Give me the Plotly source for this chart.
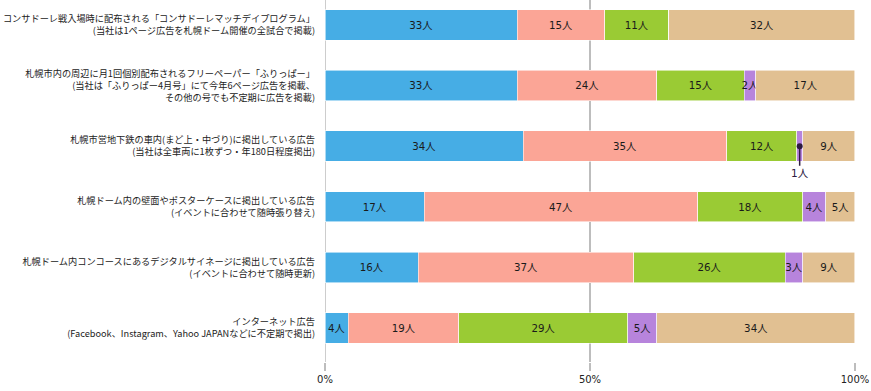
import plotly.graph_objects as go

categories = [
    "コンサドーレ戦入場時に配布される「コンサドーレマッチデイプログラム」<br>(当社は1ページ広告を札幌ドーム開催の全試合で掲載)",
    "札幌市内の周辺に月1回個別配布されるフリーペーパー「ふりっぱー」<br>(当社は「ふりっぱー4月号」にて今年6ページ広告を掲載、<br>その他の号でも不定期に広告を掲載)",
    "札幌市営地下鉄の車内(まど上・中づり)に掲出している広告<br>(当社は全車両に1枚ずつ・年180日程度掲出)",
    "札幌ドーム内の壁面やポスターケースに掲出している広告<br>(イベントに合わせて随時張り替え)",
    "札幌ドーム内コンコースにあるデジタルサイネージに掲出している広告<br>(イベントに合わせて随時更新)",
    "インターネット広告<br>(Facebook、Instagram、Yahoo JAPANなどに不定期で掲出)",
]

series_a = [33, 33, 34, 17, 16, 4]
series_b = [15, 24, 35, 47, 37, 19]
series_c = [11, 15, 12, 18, 26, 29]
series_d = [0, 2, 1, 4, 3, 5]
series_e = [32, 17, 9, 5, 9, 34]

series = [series_a, series_b, series_c, series_d, series_e]
colors = ["#46ADE5", "#FBA596", "#9ACB34", "#B784DC", "#E1C092"]

# labels: hide zero values; the single small value in row 3 is labelled with a callout
callout_row = 2
callout_series = 3

fig = go.Figure()
for si, (vals, col) in enumerate(zip(series, colors)):
    texts = []
    for ri, v in enumerate(vals):
        if v == 0 or (si == callout_series and ri == callout_row):
            texts.append("")
        else:
            texts.append(f"{v}人")
    fig.add_trace(go.Bar(
        y=categories, x=vals, orientation="h",
        marker=dict(color=col, line=dict(color="rgba(255,255,255,0.7)", width=0.8)),
        text=texts, textposition="inside", insidetextanchor="middle", textangle=0,
        textfont=dict(family="DejaVu Sans, Noto Sans CJK JP", size=10.5, color="#1a1a1a"),
        width=0.5, hoverinfo="skip", cliponaxis=False,
    ))

# callout position from the data
totals = [sum(s[i] for s in series) for i in range(len(categories))]
cum_before = sum(series[k][callout_row] for k in range(callout_series))
xpos = (cum_before + series[callout_series][callout_row] / 2) / totals[callout_row] * 100

fig.add_annotation(
    x=xpos, y=categories[callout_row], xref="x", yref="y",
    text=f"{series[callout_series][callout_row]}人",
    showarrow=True, arrowhead=6, arrowsize=1, arrowwidth=1.5, arrowcolor="#2d1a40",
    ax=0, ay=27, font=dict(family="DejaVu Sans, Noto Sans CJK JP", size=10.5, color="#2d1a40"),
)

fig.update_layout(
    barmode="stack", barnorm="percent",
    width=871, height=391,
    margin=dict(l=325, r=16, t=0, b=29),
    plot_bgcolor="white", paper_bgcolor="white",
    showlegend=False,
    uniformtext=dict(minsize=10, mode="show"),
    xaxis=dict(
        range=[-0.001, 100.001], tickvals=[0, 50, 100], ticktext=["0%", "50%", "100%"],
        showgrid=True, gridcolor="#BDBDBD", gridwidth=1.5,
        zeroline=False, showline=False,
        ticks="outside", ticklen=8, tickcolor="#BDBDBD", tickwidth=1.5,
        tickfont=dict(family="DejaVu Sans", size=10, color="#222"),
    ),
    yaxis=dict(
        type="category", range=[5.56, -0.41],
        showgrid=False, zeroline=False, showline=False, ticks="",
        ticklabelstandoff=9,
        tickfont=dict(family="Noto Sans CJK JP", size=9.2, color="#222"),
    ),
)
fig.add_shape(type="line", xref="x", yref="paper", x0=0, x1=0, y0=0, y1=1,
              line=dict(color="#BDBDBD", width=1.5), layer="below")

fig.write_html("out.html", config={"displayModeBar": False},
               post_script="document.body.style.margin='0';")
